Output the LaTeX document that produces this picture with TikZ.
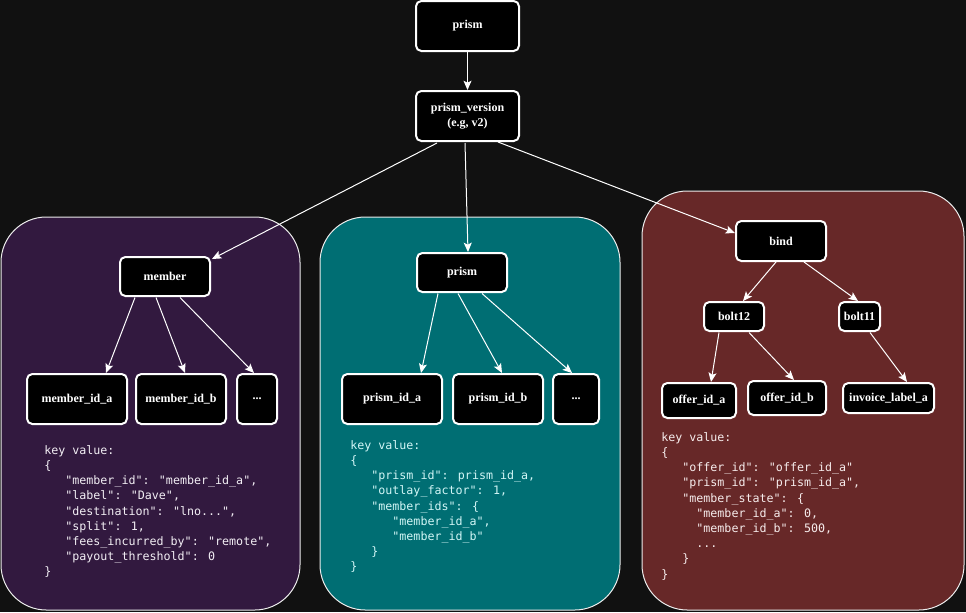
\documentclass[tikz,border=0pt]{standalone}
\usepackage{fontspec}
\setmainfont{Liberation Serif}
\newfontfamily\monof[Ligatures=TeXOff]{DejaVu Sans Mono}
\usetikzlibrary{arrows.meta,calc}
\definecolor{bgc}{HTML}{111111}
\definecolor{purp}{HTML}{32193F}
\definecolor{tealc}{HTML}{006E73}
\definecolor{redc}{HTML}{672828}
\definecolor{ltxt}{HTML}{F2EEF4}
\definecolor{mtxt}{HTML}{D2F6F6}
\definecolor{rtxt}{HTML}{F6ECEC}
\newcommand\indA{\mbox{}\ \ \ }
\newcommand\indB{\mbox{}\ \ \ \ \ }
\newcommand\indC{\mbox{}\ \ \ \ \ \ }
\begin{document}
\begin{tikzpicture}[x=0.75pt,y=-0.75pt,
  panel/.style={draw=white!85!gray, line width=0.75pt, rounded corners=34pt},
  nb/.style={draw=white, fill=black, line width=1.5pt, rounded corners=4pt, inner sep=0pt,
    text=white, font=\bfseries\fontsize{9}{11.25}\selectfont, align=center},
  kv/.style={inner sep=0pt, align=left, font=\monof\fontsize{8.75}{11.4}\selectfont},
  edge/.style={draw=white, line width=0.75pt, -{Stealth[length=7pt,width=6pt,inset=1.5pt]}}]
\fill[bgc] (0,0) rectangle (966,612);
\useasboundingbox (0,0) rectangle (966,612);
% panels
\draw[panel, fill=purp] (1,217) rectangle (300,610);
\draw[panel, fill=tealc] (320,217) rectangle (620,610);
\draw[panel, fill=redc] (642,191) rectangle (964,610);
% nodes
\node[nb, minimum width=77.25pt, minimum height=37.5pt] (top) at (467.5,26) {prism};
\node[nb, minimum width=77.25pt, minimum height=37.5pt] (pv) at (467.5,116) {prism\_version\\(e.g, v2)};
\node[nb, minimum width=67.5pt, minimum height=29.25pt] (member) at (165,276.5) {member};
\node[nb, minimum width=75pt, minimum height=37.5pt] (mida) at (77,399) {member\_id\_a};
\node[nb, minimum width=67.5pt, minimum height=37.5pt] (midb) at (181,399) {member\_id\_b};
\node[nb, minimum width=30pt, minimum height=37.5pt] (mdots) at (257,399) {...};
\node[nb, minimum width=67.5pt, minimum height=29.25pt] (prismm) at (462,272.5) {prism};
\node[nb, minimum width=75pt, minimum height=37.5pt] (pida) at (392,399) {prism\_id\_a};
\node[nb, minimum width=67.5pt, minimum height=37.5pt] (pidb) at (498,399) {prism\_id\_b};
\node[nb, minimum width=34.5pt, minimum height=37.5pt] (pdots) at (576,399) {...};
\node[nb, minimum width=67.5pt, minimum height=30pt] (bind) at (781,241) {bind};
\node[nb, minimum width=45pt, minimum height=21.75pt] (bolt12) at (734,316.5) {bolt12};
\node[nb, minimum width=30.75pt, minimum height=21.75pt] (bolt11) at (859.5,316.5) {bolt11};
\node[nb, minimum width=55.5pt, minimum height=26.25pt] (offa) at (699,400.5) {offer\_id\_a};
\node[nb, minimum width=58.5pt, minimum height=25.5pt] (offb) at (787,398) {offer\_id\_b};
\node[nb, minimum width=68.25pt, minimum height=22.5pt] (inv) at (888.5,398) {invoice\_label\_a};
% edges
\draw[edge] (top) -- (pv);
\draw[edge] ($(pv)+(-30.5,27)$) -- ($(member)+(47,-17.5)$);
\draw[edge] ($(pv)+(-2.5,27)$) -- ($(prismm)+(6,-20.5)$);
\draw[edge] ($(pv)+(30.5,26)$) -- ($(bind)+(-46,-8)$);
\draw[edge] ($(member)+(-30,21)$) -- ($(mida)+(29,-26)$);
\draw[edge] ($(member)+(-9,21)$) -- ($(midb)+(4,-26)$);
\draw[edge] ($(member)+(15,21)$) -- ($(mdots)+(-3,-26)$);
\draw[edge] ($(prismm)+(-24,21)$) -- ($(pida)+(29,-26)$);
\draw[edge] ($(prismm)+(-4,21)$) -- ($(pidb)+(4,-26)$);
\draw[edge] ($(prismm)+(20,21)$) -- ($(pdots)+(-4,-26)$);
\draw[edge] ($(bind)+(-5,21)$) -- ($(bolt12)+(9,-15.5)$);
\draw[edge] ($(bind)+(23,21)$) -- ($(bolt11)+(-1.5,-15.5)$);
\draw[edge] ($(bolt12)+(-15,16)$) -- ($(offa)+(12,-18.5)$);
\draw[edge] ($(bolt12)+(15,16)$) -- ($(offb)+(7,-18)$);
\draw[edge] ($(bolt11)+(10.5,16)$) -- ($(inv)+(18.5,-16)$);
% key-value texts
\node[kv, text=ltxt, anchor=north west] (kvl) at (44,445) {key value:\\
\{\\
\indA"member\_id": "member\_id\_a",\\
\indA"label": "Dave",\\
\indA"destination": "lno...",\\
\indA"split": 1,\\
\indA"fees\_incurred\_by": "remote",\\
\indA"payout\_threshold": 0\\
\}};
\node[kv, text=mtxt, anchor=north west] (kvm) at (350,440) {key value:\\
\{\\
\indA"prism\_id": prism\_id\_a,\\
\indA"outlay\_factor": 1,\\
\indA"member\_ids": \{\\
\indC"member\_id\_a",\\
\indC"member\_id\_b"\\
\indA\}\\
\}};
\node[kv, text=rtxt, anchor=north west] (kvr) at (661,432) {key value:\\
\{\\
\indA"offer\_id": "offer\_id\_a"\\
\indA"prism\_id": "prism\_id\_a",\\
\indA"member\_state": \{\\
\indB"member\_id\_a": 0,\\
\indB"member\_id\_b": 500,\\
\indB...\\
\indA\}\\
\}};
\end{tikzpicture}
\end{document}
